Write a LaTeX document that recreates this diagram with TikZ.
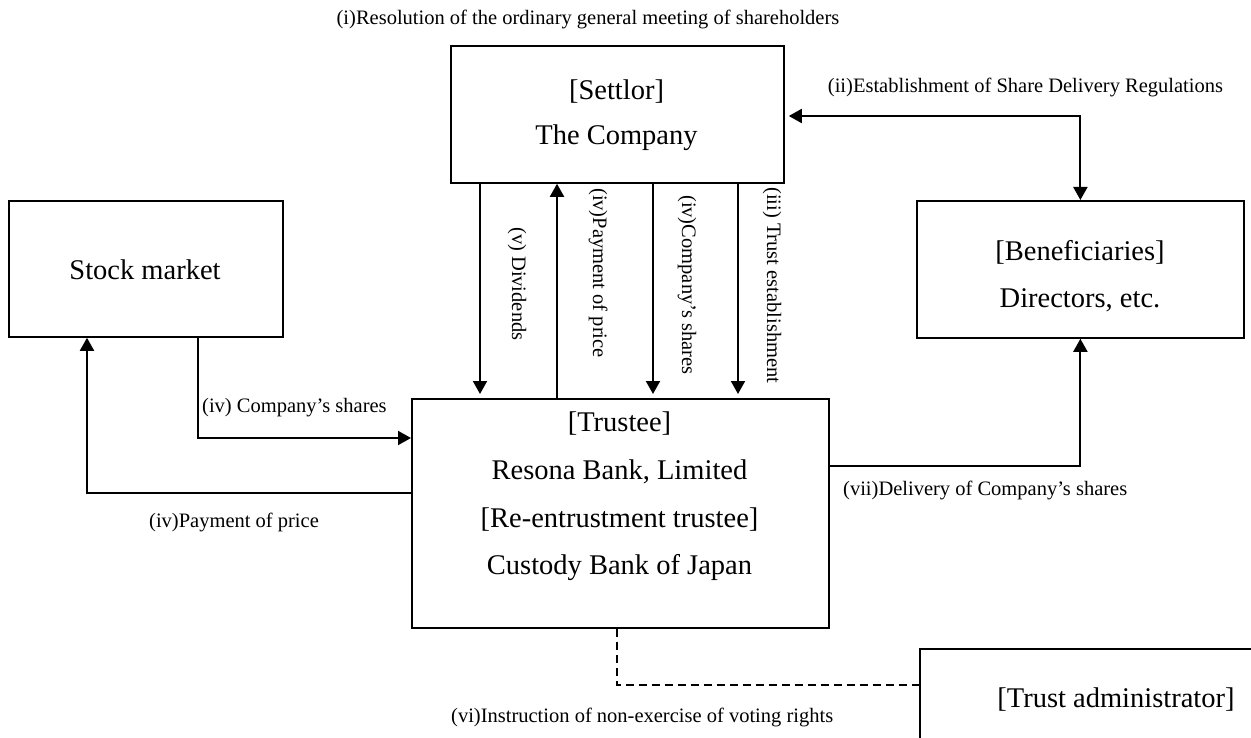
\documentclass[tikz,border=0pt]{standalone}
\usepackage{fontspec}
\setmainfont{Liberation Serif}
\usetikzlibrary{arrows.meta}
\begin{document}
\begin{tikzpicture}[x=1pt,y=-1pt,
  box/.style={draw, line width=1.8pt, inner sep=0pt, anchor=north west},
  big/.style={font=\fontsize{28.5}{#1}\selectfont, align=center, inner sep=0pt},
  big/.default=34,
  small/.style={font=\fontsize{20.5}{24}\selectfont, inner sep=0pt},
  arr/.style={line width=2pt, -{Triangle[length=13pt,width=14pt]}},
  arrboth/.style={line width=2pt, {Triangle[length=13pt,width=14pt]}-{Triangle[length=13pt,width=14pt]}},
  dline/.style={line width=2pt, dash pattern=on 8pt off 5pt}]
\useasboundingbox (0,0) rectangle (1251,738);
% boxes
\node[box, minimum width=333pt, minimum height=137pt] (settlor) at (450,45) {};
\node[box, minimum width=274pt, minimum height=136pt] (stock) at (8,200) {};
\node[box, minimum width=327pt, minimum height=137pt] (benef) at (916,200) {};
\node[box, minimum width=417pt, minimum height=229pt] (trustee) at (411,398) {};
\node[box, minimum width=400pt, minimum height=120pt] (admin) at (919,648) {};
% box texts
\node[big=45] (settlorT) at (616.5,115.5) {{[Settlor]}\\The Company};
\node[big] (stockT) at (145,270) {Stock market};
\node[big=47] (benefT) at (1080,276.5) {{[Beneficiaries]}\\Directors, etc.};
\node[big=47.7] (trusteeT) at (619.5,496.5) {{[Trustee]}\\Resona Bank, Limited\\{[Re-entrustment trustee]}\\Custody Bank of Japan};
\node[big] (adminT) at (1116,700) {[Trust administrator]};
% settlor <-> trustee arrows
\draw[arr, shorten >=4pt] ([xshift=30pt]settlor.south west) -- ([xshift=30pt]settlor.south west |- trustee.north);
\draw[arr] ([xshift=107pt]settlor.south west |- trustee.north) -- ([xshift=107pt]settlor.south west);
\draw[arr, shorten >=4pt] ([xshift=203pt]settlor.south west) -- ([xshift=203pt]settlor.south west |- trustee.north);
\draw[arr, shorten >=4pt] ([xshift=288pt]settlor.south west) -- ([xshift=288pt]settlor.south west |- trustee.north);
\node[small, rotate=-90, anchor=west] (l5) at (517,227) {(v) Dividends};
\node[small, rotate=-90, anchor=west] (l4a) at (598,188) {(iv)Payment of price};
\node[small, rotate=-90, anchor=west] (l4b) at (687,195) {(iv)Company’s shares};
\node[small, rotate=-90, anchor=west] (l3) at (772,187) {(iii) Trust establishment};
% stock market
\draw[arr] ([yshift=-95pt]trustee.north west) -| ([xshift=79pt]stock.south west);
\draw[arr] ([xshift=190pt]stock.south west) |- ([yshift=-40pt]trustee.north west);
\node[small, anchor=west] (l4c) at (202,408) {(iv) Company’s shares};
\node[small, anchor=west] (l4d) at (149,522) {(iv)Payment of price};
% beneficiaries
\draw[arrboth, shorten <=4pt] ([yshift=-71pt]settlor.north east) -| (benef.north);
\draw[arr] ([yshift=-68pt]trustee.north east) -| (benef.south);
\node[small] (l2) at (1025.5,87) {(ii)Establishment of Share Delivery Regulations};
\node[small, anchor=west] (l7) at (843,490) {(vii)Delivery of Company’s shares};
% top label
\node[small] (l1) at (588,19) {(i)Resolution of the ordinary general meeting of shareholders};
% trust administrator
\draw[dline] ([xshift=-3.5pt]trustee.south) |- ([yshift=-37pt]admin.north west);
\node[small, anchor=west] (l6) at (451,717) {(vi)Instruction of non-exercise of voting rights};
\end{tikzpicture}
\end{document}
